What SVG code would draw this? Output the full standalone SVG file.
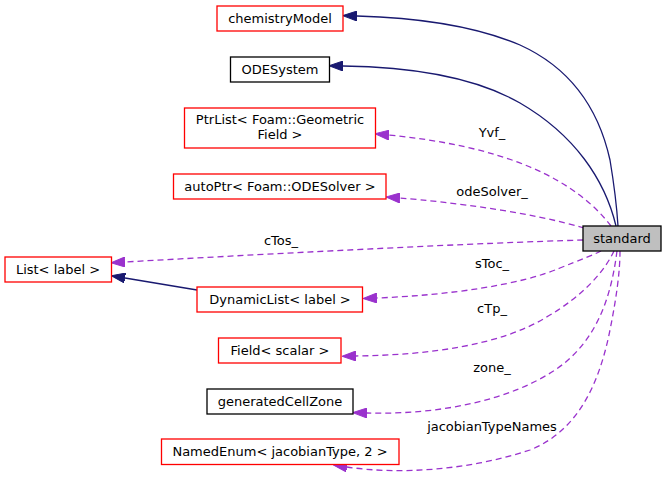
<svg xmlns="http://www.w3.org/2000/svg" width="667" height="479" viewBox="0 0 667 479">
<style>
text{font-family:"DejaVu Sans","Liberation Sans",sans-serif;font-size:13px;fill:#000;text-anchor:middle}
.red{fill:#fff;stroke:#ff0000;stroke-width:1.3}
.blk{fill:#fff;stroke:#000;stroke-width:1.3}
.cur{fill:#bfbfbf;stroke:#000;stroke-width:1.3}
.inh{fill:none;stroke:#191970;stroke-width:1.3;marker-end:url(#an)}
.use{fill:none;stroke:#9a32cd;stroke-width:1.3;stroke-dasharray:6,4;marker-end:url(#ap)}
</style>
<defs>
<marker id="an" markerUnits="userSpaceOnUse" viewBox="0 0 14 10" refX="0" refY="5" markerWidth="14" markerHeight="10" orient="auto"><path d="M0,0 L14,5 L0,10 z" fill="#191970" stroke="#191970"/></marker>
<marker id="ap" markerUnits="userSpaceOnUse" viewBox="0 0 14 10" refX="0" refY="5" markerWidth="14" markerHeight="10" orient="auto"><path d="M0,0 L14,5 L0,10 z" fill="#9a32cd" stroke="#9a32cd"/></marker>
</defs>
<g id="connectors">
<path class="inh" d="M618,226 C617,210 615,190 610,160 C600,115 575,70 520,45 C480,28 430,18 357,16"/>
<path class="inh" d="M616,226 C605,180 575,135 520,103 C480,80 420,67 343,66"/>
<path class="use" d="M611,226 C595,205 570,184 530,167 C490,150 440,140 389,135"/>
<text x="492" y="137">Yvf_</text>
<path class="use" d="M584,228 C530,212 450,202 400,198"/>
<text x="492" y="196">odeSolver_</text>
<path class="use" d="M583,240 C480,243 300,252 125,262"/>
<text x="281" y="245">cTos_</text>
<path class="inh" d="M197,290 L125,278"/>
<path class="use" d="M601,251 C593,255 580,260 560,268 C520,285 450,295 377,298"/>
<text x="492" y="268">sToc_</text>
<path class="use" d="M614,251 C605,270 585,295 545,318 C500,345 430,355 356,356"/>
<text x="492" y="313">cTp_</text>
<path class="use" d="M617,251 C612,290 600,340 555,370 C510,400 440,415 367,413"/>
<text x="492" y="372">zone_</text>
<path class="use" d="M620,251 C620,270 617,295 610,330 C600,380 580,430 530,450 C470,470 400,475 347,467"/>
<text x="492" y="431">jacobianTypeNames</text>
</g>
<g id="standard"><rect class="cur" x="583" y="226" width="78" height="25"/><text x="622" y="243">standard</text></g>
<g id="chemistryModel"><rect class="red" x="217" y="6" width="126" height="25"/><text x="280" y="23">chemistryModel</text></g>
<g id="ODESystem"><rect class="blk" x="230.5" y="57" width="99" height="25"/><text x="280" y="74">ODESystem</text></g>
<g id="PtrList"><rect class="red" x="184.5" y="108" width="191" height="40"/><text x="280" y="124">PtrList&lt; Foam::Geometric</text><text x="280" y="139">Field &gt;</text></g>
<g id="autoPtr"><rect class="red" x="173.5" y="174" width="212.5" height="25"/><text x="280" y="191">autoPtr&lt; Foam::ODESolver &gt;</text></g>
<g id="List"><rect class="red" x="5" y="257" width="106.5" height="25"/><text x="58" y="274">List&lt; label &gt;</text></g>
<g id="DynamicList"><rect class="red" x="197" y="287" width="165.5" height="25"/><text x="280" y="304">DynamicList&lt; label &gt;</text></g>
<g id="Field"><rect class="red" x="218.5" y="338" width="122.5" height="25"/><text x="280" y="355">Field&lt; scalar &gt;</text></g>
<g id="generatedCellZone"><rect class="blk" x="207" y="389" width="146" height="25"/><text x="280" y="406">generatedCellZone</text></g>
<g id="NamedEnum"><rect class="red" x="161.5" y="439" width="237.5" height="25.5"/><text x="280" y="456">NamedEnum&lt; jacobianType, 2 &gt;</text></g>
</svg>
